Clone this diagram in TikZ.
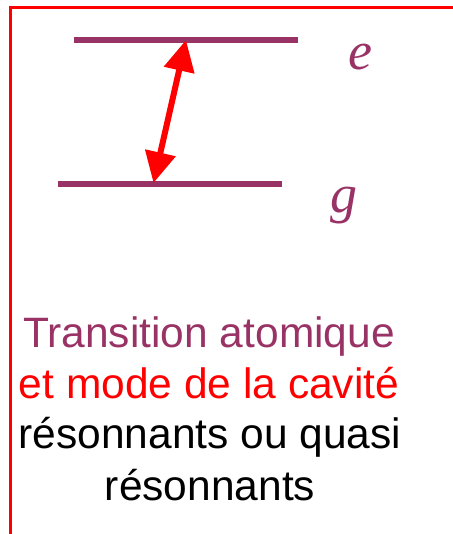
\documentclass[tikz,border=0pt]{standalone}
\usepackage{fontspec}
\setmainfont{Liberation Sans}
\newfontfamily\serifit{Liberation Serif}
\usetikzlibrary{arrows.meta}
\definecolor{plum}{HTML}{993366}
\tikzset{
  level/.style={draw=plum, line width=5.5pt},
  frame/.style={draw=red, line width=3pt},
  trans/.style={draw=red, line width=6pt, {Triangle[length=31pt,width=30pt]}-{Triangle[length=31pt,width=30pt]}},
  lbl/.style={text=plum, inner sep=0pt, font=\serifit\itshape\fontsize{54}{60}\selectfont},
  txt/.style={inner sep=0pt, anchor=base, font=\fontsize{42.5}{50}\selectfont}
}
\begin{document}
\begin{tikzpicture}[x=1pt,y=-1pt]
\useasboundingbox (0,0) rectangle (452,534);
\draw[frame] (10.5,540) -- (10.5,7.5) -- (460,7.5);
\coordinate (e1) at (74,40);
\coordinate (e2) at (298,40);
\coordinate (g1) at (58,184);
\coordinate (g2) at (282,184);
\draw[level] (e1) -- (e2);
\draw[level] (g1) -- (g2);
\coordinate (tg) at (153.5,183);
\coordinate (te) at (186,40);
\draw[trans] (tg) -- (te);
\node[lbl, anchor=base west] (le) at (348,70) {e};
\node[lbl, anchor=base west] (lg) at (330,213) {g};
\node[txt, text=plum] (t1) at (209,347) {Transition atomique};
\node[txt, text=red] (t2) at (209,398) {et mode de la cavité};
\node[txt, text=black] (t3) at (210,448) {résonnants ou quasi};
\node[txt, text=black] (t4) at (210,500) {résonnants};
\end{tikzpicture}
\end{document}
